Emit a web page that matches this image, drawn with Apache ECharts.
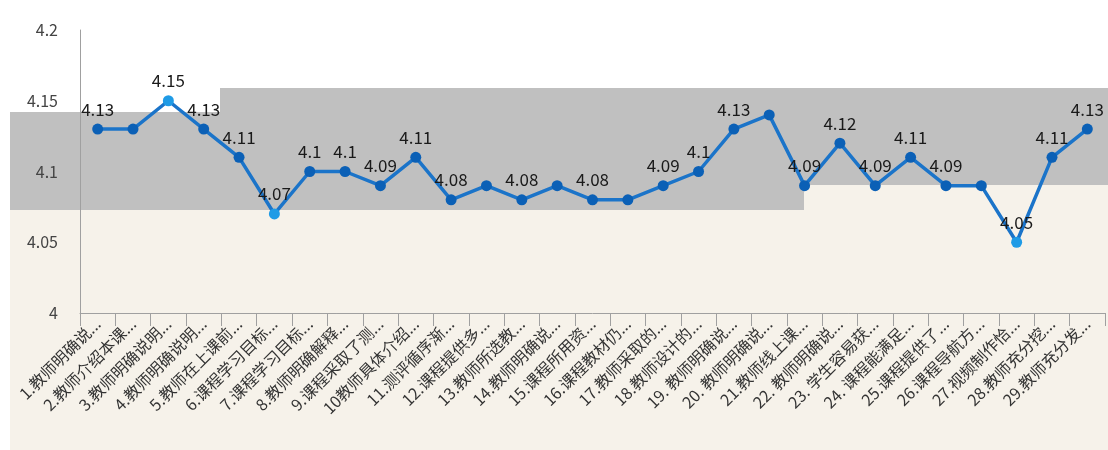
<!DOCTYPE html>
<html>
<head>
<meta charset="utf-8">
<script src="https://cdn.jsdelivr.net/npm/echarts@6/dist/echarts.min.js"></script>
<style>
  html, body { margin: 0; padding: 0; background: #fff; }
  #main { width: 1108px; height: 450px; }
</style>
</head>
<body>
<div id="main"></div>
<script>
// 类目（题目）
var categories = [
  '1.教师明确说...', '2.教师介绍本课...', '3.教师明确说明...', '4.教师明确说明...',
  '5.教师在上课前...', '6.课程学习目标...', '7.课程学习目标...', '8.教师明确解释...',
  '9.课程采取了测...', '10教师具体介绍...', '11.测评循序渐...', '12.课程提供多...',
  '13.教师所选教...', '14.教师明确说...', '15.课程所用资...', '16.课程教材仍...',
  '17.教师采取的...', '18.教师设计的...', '19. 教师明确说...', '20. 教师明确说...',
  '21.教师线上课...', '22. 教师明确说...', '23. 学生容易获...', '24. 课程能满足...',
  '25.课程提供了...', '26.课程导航方...', '27.视频制作恰...', '28.教师充分挖...',
  '29.教师充分发...'
]
// 平均分
var scores = [
  4.13, 4.13, 4.15, 4.13, 4.11, 4.07, 4.1, 4.1, 4.09, 4.11,
  4.08, 4.09, 4.08, 4.09, 4.08, 4.08, 4.09, 4.1, 4.13, 4.14,
  4.09, 4.12, 4.09, 4.11, 4.09, 4.09, 4.05, 4.11, 4.13
]
// 不显示数值的点
var hiddenLabels = [1, 11, 13, 15, 19, 25]
// 浅色的点
var lightPoints = [2, 5, 26]
var yTicks = [4, 4.05, 4.1, 4.15, 4.2]

var font = 'Noto Sans CJK SC'

var seriesData = scores.map(function (v, i) {
  var item = { value: v }
  if (hiddenLabels.indexOf(i) >= 0) item.label = { show: false }
  if (lightPoints.indexOf(i) >= 0) item.itemStyle = { color: '#1f9be6' }
  return item
})

var myChart = echarts.init(document.getElementById('main'))
myChart.setOption({
  animation: false,
  backgroundColor: '#ffffff',
  graphic: [
    // 底色
    { type: 'rect', z: -10, silent: true, shape: { x: 10, y: 112, width: 1098, height: 338 }, style: { fill: '#f6f2ea' } },
    { type: 'rect', z: -10, silent: true, shape: { x: 220, y: 88, width: 888, height: 30 }, style: { fill: '#f6f2ea' } },
    // 灰色块
    { type: 'rect', z: -9, silent: true, shape: { x: 10, y: 112, width: 212, height: 98 }, style: { fill: '#c0c0c0' } },
    { type: 'rect', z: -9, silent: true, shape: { x: 220, y: 88, width: 584, height: 122 }, style: { fill: '#c0c0c0' } },
    { type: 'rect', z: -9, silent: true, shape: { x: 803, y: 88, width: 305, height: 97 }, style: { fill: '#c0c0c0' } }
  ],
  grid: { left: 80, right: 3, top: 30, bottom: 137 },
  xAxis: {
    type: 'category',
    data: categories,
    boundaryGap: true,
    axisLine: { lineStyle: { color: '#a0a0a0' } },
    axisTick: { show: true, length: 13, lineStyle: { color: '#a0a0a0' } },
    axisLabel: {
      interval: 0,
      rotate: 45,
      fontSize: 16,
      color: '#333',
      fontFamily: font,
      margin: 8
    }
  },
  yAxis: {
    type: 'value',
    min: yTicks[0],
    max: yTicks[yTicks.length - 1],
    interval: 0.05,
    splitLine: { show: false },
    axisLine: { show: true, lineStyle: { color: '#a0a0a0' } },
    axisTick: { show: false },
    axisLabel: { fontSize: 16, color: '#444', fontFamily: font, margin: 22 }
  },
  series: [{
    type: 'line',
    data: seriesData,
    symbol: 'circle',
    symbolSize: 11,
    lineStyle: { color: '#1b74c9', width: 3.5 },
    itemStyle: { color: '#0b60b6' },
    label: {
      show: true,
      position: 'top',
      distance: 6,
      fontSize: 17,
      color: '#1a1a1a',
      fontFamily: font
    }
  }]
})
</script>
</body>
</html>
